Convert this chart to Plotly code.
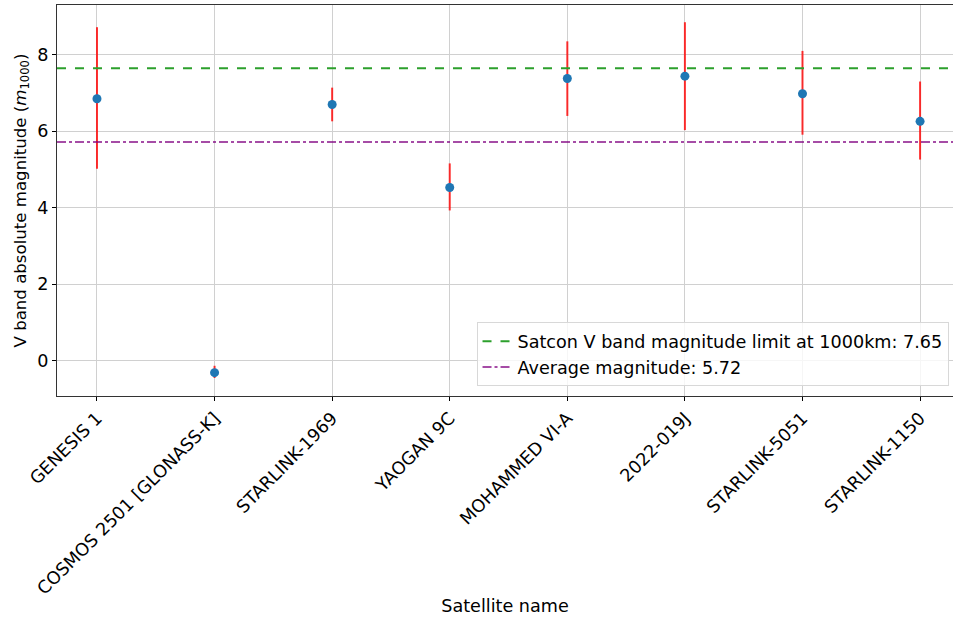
import plotly.graph_objects as go

satellites = ["GENESIS 1", "COSMOS 2501 [GLONASS-K]", "STARLINK-1969", "YAOGAN 9C",
              "MOHAMMED VI-A", "2022-019J", "STARLINK-5051", "STARLINK-1150"]
magnitude = [6.85, -0.31, 6.70, 4.53, 7.38, 7.44, 6.98, 6.26]
err_plus = [1.87, 0.18, 0.44, 0.63, 0.97, 1.41, 1.12, 1.04]
err_minus = [1.83, 0.14, 0.44, 0.60, 0.98, 1.41, 1.07, 1.00]
satcon_limit = 7.65
average_mag = 5.72

FONT = "DejaVu Sans"
FS = 17.6

fig = go.Figure()
fig.add_trace(go.Scatter(
    x=satellites, y=magnitude, mode="markers",
    marker=dict(color="#1f77b4", size=9),
    error_y=dict(type="data", symmetric=False, array=err_plus, arrayminus=err_minus,
                 color="rgba(255,0,0,0.8)", thickness=2, width=0),
    showlegend=False,
))

fig.add_hline(y=satcon_limit, line=dict(color="#2ca02c", dash="dash", width=2),
              showlegend=True, name=f"Satcon V band magnitude limit at 1000km: {satcon_limit}")
fig.add_hline(y=average_mag, line=dict(color="rgba(128,0,128,0.7)", dash="dashdot", width=2),
              showlegend=True, name=f"Average magnitude: {average_mag}")

grid = "#d0d0d0"
fig.update_layout(
    width=953, height=623,
    margin=dict(l=57, r=0, t=5, b=227, autoexpand=False),
    paper_bgcolor="white", plot_bgcolor="white",
    font=dict(family=FONT, size=FS, color="black"),
    legend=dict(x=0.995, y=0.025, xanchor="right", yanchor="bottom",
                bgcolor="rgba(255,255,255,0.8)", bordercolor="#d8d8d8", borderwidth=1,
                font=dict(size=FS), itemwidth=30, tracegroupgap=0),
    xaxis=dict(
        type="category", range=[-0.34, 7.28], automargin=False,
        tickangle=-45, ticks="outside", ticklen=4, tickcolor="black",
        showgrid=True, gridcolor=grid, gridwidth=1,
        showline=True, linecolor="#333333", linewidth=1, mirror=True,
        title=dict(text="Satellite name", font=dict(size=FS), standoff=2),
        tickfont=dict(size=FS), zeroline=False,
    ),
    yaxis=dict(
        range=[-0.92, 9.30], tickvals=[0, 2, 4, 6, 8], automargin=False,
        ticks="outside", ticklen=4, tickcolor="black",
        showgrid=True, gridcolor=grid, gridwidth=1,
        showline=True, linecolor="#333333", linewidth=1, zeroline=False,
        title=dict(text="V band absolute magnitude (<i>m</i><sub>1000</sub>)", font=dict(size=FS - 1), standoff=6),
        tickfont=dict(size=FS),
    ),
)

fig.write_html("out.html")
